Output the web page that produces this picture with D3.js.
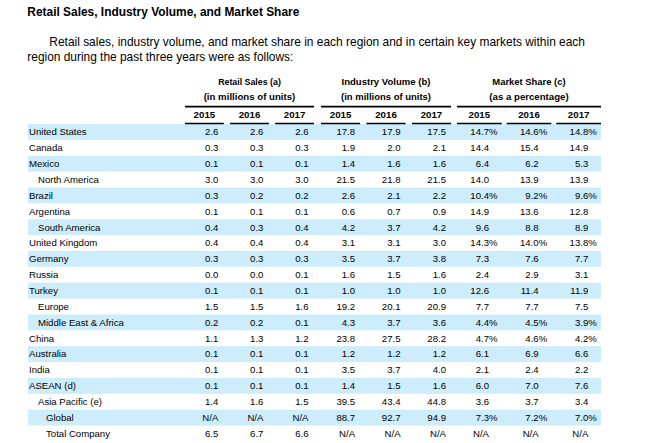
<!DOCTYPE html>
<html><head><meta charset="utf-8">
<script src="https://cdn.jsdelivr.net/npm/d3@7"></script>
<style>
body{margin:0;background:#fff}
svg{display:block;font-family:"Liberation Sans",Arial,Helvetica,sans-serif}
</style></head>
<body><svg id="c" width="660" height="443"></svg>
<script>
// ---------- DATA ----------
const years = ["2015", "2016", "2017"];
const regions = ["United States","Canada","Mexico","North America","Brazil","Argentina","South America",
  "United Kingdom","Germany","Russia","Turkey","Europe","Middle East & Africa","China","Australia","India",
  "ASEAN (d)","Asia Pacific (e)","Global","Total Company"];
const indentLevels = [0,0,0,1,0,0,1,0,0,0,0,1,1,0,0,0,0,1,2,2];
const retail2015 = [2.6,0.3,0.1,3.0,0.3,0.1,0.4,0.4,0.3,0.0,0.1,1.5,0.2,1.1,0.1,0.1,0.1,1.4,null,6.5];
const retail2016 = [2.6,0.3,0.1,3.0,0.2,0.1,0.3,0.4,0.3,0.0,0.1,1.5,0.2,1.3,0.1,0.1,0.1,1.6,null,6.7];
const retail2017 = [2.6,0.3,0.1,3.0,0.2,0.1,0.4,0.4,0.3,0.1,0.1,1.6,0.1,1.2,0.1,0.1,0.1,1.5,null,6.6];
const industry2015 = [17.8,1.9,1.4,21.5,2.6,0.6,4.2,3.1,3.5,1.6,1.0,19.2,4.3,23.8,1.2,3.5,1.4,39.5,88.7,null];
const industry2016 = [17.9,2.0,1.6,21.8,2.1,0.7,3.7,3.1,3.7,1.5,1.0,20.1,3.7,27.5,1.2,3.7,1.5,43.4,92.7,null];
const industry2017 = [17.5,2.1,1.6,21.5,2.2,0.9,4.2,3.0,3.8,1.6,1.0,20.9,3.6,28.2,1.2,4.0,1.6,44.8,94.9,null];
const share2015 = [14.7,14.4,6.4,14.0,10.4,14.9,9.6,14.3,7.3,2.4,12.6,7.7,4.4,4.7,6.1,2.1,6.0,3.6,7.3,null];
const share2016 = [14.6,15.4,6.2,13.9,9.2,13.6,8.8,14.0,7.6,2.9,11.4,7.7,4.5,4.6,6.9,2.4,7.0,3.7,7.2,null];
const share2017 = [14.8,14.9,5.3,13.9,9.6,12.8,8.9,13.8,7.7,3.1,11.9,7.5,3.9,4.2,6.6,2.2,7.6,3.4,7.0,null];
const percentRows = ["United States","Brazil","United Kingdom","Middle East & Africa","China","Global"];
const groupTitles = ["Retail Sales (a)","Industry Volume (b)","Market Share (c)"];
const groupSubtitles = ["(in millions of units)","(in millions of units)","(as a percentage)"];
const titleText = "Retail Sales, Industry Volume, and Market Share";
const paragraphLines = ["Retail sales, industry volume, and market share in each region and in certain key markets within each",
  "region during the past three years were as follows:"];

const groupValues = [
  [retail2015, retail2016, retail2017],
  [industry2015, industry2016, industry2017],
  [share2015, share2016, share2017]
];

// ---------- LAYOUT ----------
const svg = d3.select("#c");
const fs = 9.6;
const rowTop = 124, rowH = 15.87;
const bandLeft = 28, bandRight = 601;
const bandColor = "#cdedfc";

const rowScale = d3.scaleBand().domain(d3.range(regions.length))
  .range([rowTop, rowTop + rowH * regions.length]).paddingInner(0).paddingOuter(0);

const colScales = [
  d3.scaleBand().domain(years).range([185, 314]).paddingInner(0.14),
  d3.scaleBand().domain(years).range([321, 451]).paddingInner(0.14),
  d3.scaleBand().domain(years).range([457, 601]).paddingInner(0.1)
];
const rightInset = [5.5, 5, 12.7];
const groupTitleWidths = [62.7, 89, 73.3];
const groupSubWidths = [91.7, 90, 79.3];

function fitText(sel, w) {
  sel.attr("textLength", w).attr("lengthAdjust", "spacingAndGlyphs");
}

// Title
svg.append("text").attr("x", 27.3).attr("y", 15.7)
  .attr("font-size", 11.9).attr("font-weight", "bold").attr("fill", "#000")
  .text(titleText).call(fitText, 272);

// Paragraph
svg.append("text").attr("x", 49.3).attr("y", 45.7).attr("font-size", 11.9).attr("fill", "#000")
  .text(paragraphLines[0]).call(fitText, 535.7);
svg.append("text").attr("x", 27.3).attr("y", 60.7).attr("font-size", 11.9).attr("fill", "#000")
  .text(paragraphLines[1]).call(fitText, 266);

// Row bands
svg.append("g").selectAll("rect")
  .data(d3.range(regions.length).filter(i => i % 2 === 0))
  .join("rect")
  .attr("x", bandLeft).attr("width", bandRight - bandLeft)
  .attr("y", i => rowScale(i)).attr("height", rowScale.bandwidth())
  .attr("fill", bandColor);

// Group headers
groupTitles.forEach((t, g) => {
  const sc = colScales[g];
  const [r0, r1] = sc.range();
  const cx = (r0 + r1) / 2;
  svg.append("text").attr("x", cx).attr("y", 85)
    .attr("text-anchor", "middle").attr("font-size", 9.3).attr("font-weight", "bold")
    .text(t).call(fitText, groupTitleWidths[g]);
  svg.append("text").attr("x", cx).attr("y", 100.2)
    .attr("text-anchor", "middle").attr("font-size", 9.3).attr("font-weight", "bold")
    .text(groupSubtitles[g]).call(fitText, groupSubWidths[g]);
  svg.append("line")
    .attr("x1", r0).attr("x2", r1)
    .attr("y1", 106.6).attr("y2", 106.6).attr("stroke", "#000").attr("stroke-width", 1.8);

  years.forEach(y => {
    svg.append("text").attr("x", sc(y) + sc.bandwidth() / 2).attr("y", 118)
      .attr("text-anchor", "middle").attr("font-size", 9.7).attr("font-weight", "bold").text(y);
    svg.append("line").attr("x1", sc(y)).attr("x2", sc(y) + sc.bandwidth())
      .attr("y1", 123.4).attr("y2", 123.4).attr("stroke", "#000").attr("stroke-width", 1.5);
  });
});

// Row labels
const fmt = d3.format(".1f");
const indentX = [29, 38, 46];
svg.append("g").selectAll("text").data(regions).join("text")
  .attr("x", (d, i) => indentX[indentLevels[i]])
  .attr("y", (d, i) => rowScale(i) + 11.3)
  .attr("font-size", fs).attr("fill", "#000").text(d => d);

// Values
groupValues.forEach((series, g) => {
  const sc = colScales[g];
  series.forEach((vals, yi) => {
    const xr = sc(years[yi]) + sc.bandwidth() - rightInset[g];
    const cg = svg.append("g");
    cg.selectAll("text.v").data(vals).join("text").attr("class", "v")
      .attr("x", xr).attr("y", (d, i) => rowScale(i) + 11.3)
      .attr("text-anchor", "end").attr("font-size", fs).attr("fill", "#000")
      .text(d => d === null ? "N/A" : fmt(d));
    if (g === 2) {
      cg.selectAll("text.p").data(vals.map((d, i) => ({d, i}))
        .filter(o => o.d !== null && percentRows.includes(regions[o.i])))
        .join("text").attr("class", "p")
        .attr("x", xr).attr("y", o => rowScale(o.i) + 11.3)
        .attr("font-size", fs).attr("fill", "#000").text("%");
    }
  });
});
</script></body></html>
